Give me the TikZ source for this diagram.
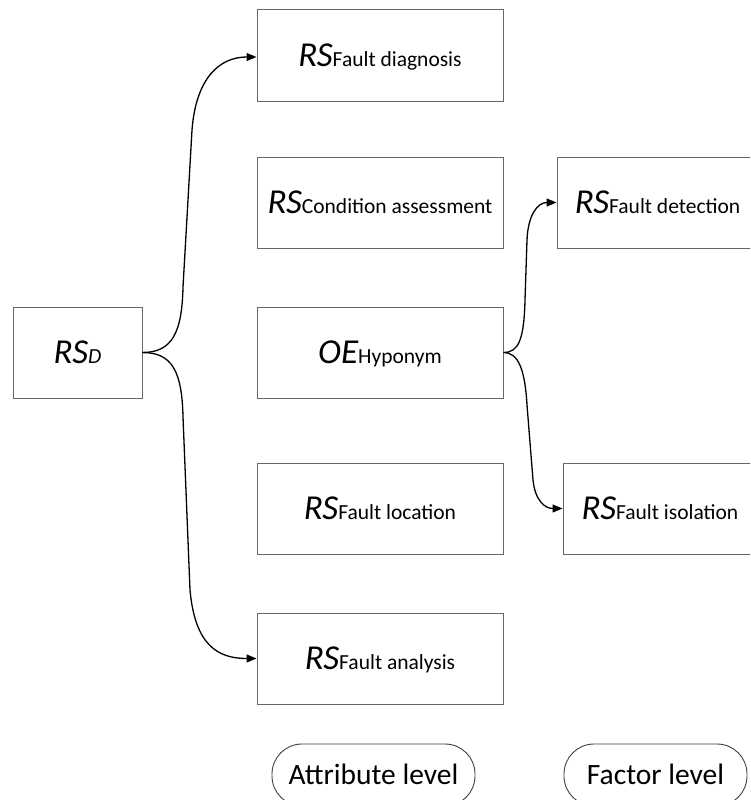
\documentclass[tikz,border=0pt]{standalone}
\usepackage{fontspec}
\setmainfont{Carlito}
\usetikzlibrary{arrows.meta,calc}

\tikzset{
  box/.style={draw=black!60, line width=1pt, minimum height=91pt, inner sep=0pt,
              text height=22pt, text depth=0pt, align=center},
  pill/.style={draw=black!75, line width=0.9pt, rounded corners=30pt, minimum height=62pt,
               inner sep=0pt, text height=19pt, text depth=0pt, font=\fontsize{29.5}{32}\selectfont},
  link/.style={draw=black, line width=1.3pt, -{Triangle[length=10pt,width=8pt]}},
  branch/.style={draw=black, line width=1.3pt}
}
% large italic symbol followed by a smaller upright qualifier on the same baseline
\newcommand{\termlabel}[2]{{\fontsize{35}{38}\selectfont\itshape #1}{\fontsize{21.5}{24}\selectfont #2}}

\begin{document}
\begin{tikzpicture}[x=1pt,y=-1pt]
  \useasboundingbox (0,0) rectangle (750,800);
  \clip (0,0) rectangle (750,800);

  % root
  \node[box, minimum width=129pt] (rsd) at (77.5,352.5)
    {\termlabel{RS}{\itshape D}};

  % attribute level
  \node[box, minimum width=246pt] (diag) at (380,55.5)  {\termlabel{RS}{Fault diagnosis}};
  \node[box, minimum width=246pt] (cond) at (380,202.5) {\termlabel{RS}{Condition assessment}};
  \node[box, minimum width=246pt] (hyp)  at (380,352.5) {\termlabel{OE}{Hyponym}};
  \node[box, minimum width=246pt] (loc)  at (380,508.5) {\termlabel{RS}{Fault location}};
  \node[box, minimum width=246pt] (anal) at (380,658.5) {\termlabel{RS}{Fault analysis}};

  % factor level
  \node[box, minimum width=201pt] (det) at (657.5,202.5) {\termlabel{RS}{Fault detection}};
  \node[box, minimum width=194pt] (iso) at (660,508.5)   {\termlabel{RS}{Fault isolation}};

  % level captions
  \node[pill, minimum width=203pt] (attrlvl) at (373.5,775) {Attribute level};
  \node[pill, minimum width=183pt] (factlvl) at (655.5,775) {Factor level};

  % bends of the connectors
  \coordinate (lu1) at (183,287);
  \coordinate (lu2) at (192,130);
  \coordinate (ld1) at (183,417);
  \coordinate (ld2) at (190,590);
  \coordinate (ru1) at (525,300);
  \coordinate (ru2) at (527,240);
  \coordinate (rd1) at (527,405);
  \coordinate (rd2) at (533,480);

  % root to attributes
  \draw[link] (rsd.east) .. controls ($(rsd.east)+(30,0)$) and ($(lu1)+(-1,45)$) .. (lu1)
      -- (lu2) .. controls ($(lu2)+(4,-52)$) and ($(diag.west)+(-37,1.5)$) .. ($(diag.west)+(0,1.5)$);
  \draw[link] (rsd.east) .. controls ($(rsd.east)+(30,0)$) and ($(ld1)+(-1,-45)$) .. (ld1)
      -- (ld2) .. controls ($(ld2)+(5,55)$) and ($(anal.west)+(-39,0)$) .. (anal.west);

  % hyponym to factors
  \draw[link] (hyp.east) .. controls ($(hyp.east)+(15,0)$) and ($(ru1)+(-1,40)$) .. (ru1)
      -- (ru2) .. controls ($(ru2)+(1,-25)$) and ($(det.west)+(-19,0)$) .. (det.west);
  \draw[link] (hyp.east) .. controls ($(hyp.east)+(15,0)$) and ($(rd1)+(-2,-35)$) .. (rd1)
      -- (rd2) .. controls ($(rd2)+(2,20)$) and ($(iso.west)+(-18,0)$) .. (iso.west);
\end{tikzpicture}
\end{document}
